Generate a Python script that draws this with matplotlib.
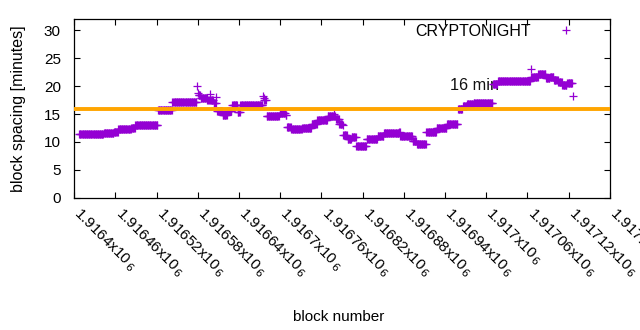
import numpy as np
import matplotlib
matplotlib.use("Agg")
import matplotlib.pyplot as plt
from matplotlib.transforms import ScaledTranslation

plt.rcParams['font.family'] = ['Liberation Sans', 'DejaVu Sans']

# runs of constant block spacing (first block of each run, value in minutes)
run_start = [1916407, 1916443, 1916458, 1916464, 1916483, 1916489, 1916522, 1916543,
             1916579, 1916580, 1916581, 1916584, 1916594, 1916597, 1916598, 1916603,
             1916607, 1916608, 1916616, 1916623, 1916630, 1916638, 1916642, 1916675,
             1916676, 1916677, 1916680, 1916699, 1916708, 1916710, 1916716, 1916732,
             1916746, 1916754, 1916769, 1916778, 1916779, 1916781, 1916786, 1916791,
             1916792, 1916798, 1916804, 1916811, 1916826, 1916842, 1916851, 1916873,
             1916875, 1916893, 1916899, 1916913, 1916928, 1916943, 1916959, 1916966,
             1916972, 1916982, 1917010, 1917017, 1917065, 1917066, 1917076, 1917087,
             1917093, 1917099, 1917105, 1917111, 1917118, 1917126]
last_block = 1917127
run_value = [11.35, 11.55, 11.8, 12.25, 12.5, 12.97, 15.65, 17.2,
             20.1, 18.8, 18.5, 17.8, 17.5, 18.6, 17.5, 17.0,
             18.1, 15.5, 14.9, 15.5, 16.6, 15.4, 16.7, 18.3,
             17.9, 17.5, 14.6, 15.2, 14.8, 12.7, 12.25, 12.43,
             13.3, 13.9, 14.6, 15.1, 14.6, 14.05, 13.3, 13.0,
             11.2, 10.6, 10.9, 9.35, 10.45, 11.15, 11.55, 11.8,
             11.1, 10.2, 9.55, 11.8, 12.5, 13.15, 16.0, 16.4,
             16.85, 17.0, 20.4, 20.85, 23.0, 21.6, 22.1, 21.4,
             21.6, 21.2, 20.8, 20.3, 20.5, 18.2]

target = 16
target_label = '16 min'
label_pos = (1916947, 20.1)
series_name = 'CRYPTONIGHT'

xticks = [1916400 + 60 * k for k in range(14)]
yticks = [0, 5, 10, 15, 20, 25, 30]

# expand runs to one point per block
bounds = run_start + [last_block]
blocks = np.arange(run_start[0], last_block)
spacing = np.repeat(run_value, np.diff(bounds))

fig = plt.figure(figsize=(6.4, 3.3), dpi=100)
ax = fig.add_axes([0.1161, 0.4009, 0.8366, 0.5406])

ax.plot(blocks, spacing, '+', color='#9400d3', ms=5.5, mew=0.9, label=series_name, zorder=2)
ax.axhline(target, color='#ffa500', lw=2.8, zorder=3)
ax.text(label_pos[0], label_pos[1], target_label, fontsize=11.7, va='center', ha='left', color='#111111', zorder=1)

ax.set_xlim(1916400, 1917180)
ax.set_ylim(0, 32)
ax.set_yticks(yticks)
ax.set_xticks(xticks)
# gnuplot's rotated "x10^6" ends up with the 6 sitting low and apart
ax.set_xticklabels([f'{t/1e6:g}x10$_{{\\,6}}$' for t in xticks], rotation=-45,
                   ha='left', va='top', rotation_mode='anchor', fontsize=11)
ax.tick_params(direction='in', top=True, right=True, length=4, width=0.8, labelsize=11)
ax.tick_params(axis='x', pad=8)
ax.tick_params(axis='y', pad=9.7)
shift = ScaledTranslation(0.08, 0.035, fig.dpi_scale_trans)
for lab in ax.get_xticklabels():
    lab.set_transform(lab.get_transform() + shift)
for s in ax.spines.values():
    s.set_linewidth(0.9)

ax.set_xlabel('block number', fontsize=11)
ax.set_ylabel('block spacing [minutes]', fontsize=11.5)
ax.xaxis.set_label_coords(0.493, -0.632)
ax.yaxis.set_label_coords(-0.091, 0.5)

ax.legend(loc='upper right', bbox_to_anchor=(0.9488, 0.975), frameon=False, markerfirst=False,
          handlelength=2, handletextpad=1.2, borderaxespad=0, borderpad=0, fontsize=11.5)

fig.savefig('out.png', dpi=100)
